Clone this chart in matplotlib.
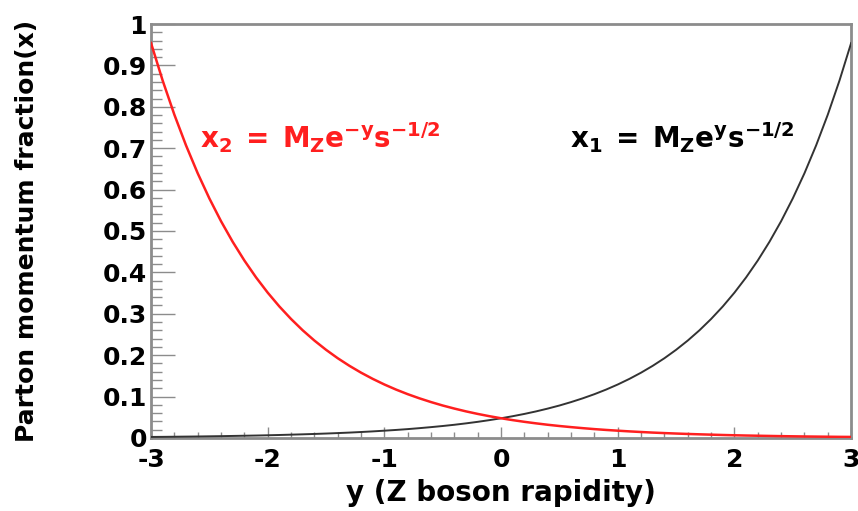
import numpy as np
import matplotlib.pyplot as plt
from matplotlib.ticker import MultipleLocator

plt.rcParams['font.family'] = ['DejaVu Sans']
plt.rcParams['font.weight'] = 'bold'
plt.rcParams['axes.unicode_minus'] = False
plt.rcParams['mathtext.fontset'] = 'custom'
plt.rcParams['mathtext.rm'] = 'Liberation Sans:bold'
plt.rcParams['mathtext.it'] = 'Liberation Sans:bold'
plt.rcParams['mathtext.bf'] = 'Liberation Sans:bold'

# ── data ──────────────────────────────────
rapidity = [-3.0, -2.9, -2.8, -2.7, -2.6, -2.5, -2.4, -2.3, -2.2, -2.1,
            -2.0, -1.9, -1.8, -1.7, -1.6, -1.5, -1.4, -1.3, -1.2, -1.1,
            -1.0, -0.9, -0.8, -0.7, -0.6, -0.5, -0.4, -0.3, -0.2, -0.1,
            0.0, 0.1, 0.2, 0.3, 0.4, 0.5, 0.6, 0.7, 0.8, 0.9,
            1.0, 1.1, 1.2, 1.3, 1.4, 1.5, 1.6, 1.7, 1.8, 1.9,
            2.0, 2.1, 2.2, 2.3, 2.4, 2.5, 2.6, 2.7, 2.8, 2.9, 3.0]
# x1 (black), left to right
x1_vals = [0.0024, 0.0026, 0.0029, 0.0032, 0.0035, 0.0039, 0.0043, 0.0048,
           0.0053, 0.0058, 0.0064, 0.0071, 0.0079, 0.0087, 0.0096, 0.0106,
           0.0117, 0.0129, 0.0143, 0.0158, 0.0175, 0.0193, 0.0213, 0.0236,
           0.0261, 0.0288, 0.0318, 0.0352, 0.0389, 0.0430, 0.0475, 0.0525,
           0.0580, 0.0641, 0.0709, 0.0783, 0.0866, 0.0957, 0.1057, 0.1168,
           0.1291, 0.1427, 0.1577, 0.1743, 0.1926, 0.2129, 0.2353, 0.2600,
           0.2874, 0.3176, 0.3510, 0.3879, 0.4287, 0.4738, 0.5236, 0.5787,
           0.6395, 0.7068, 0.7811, 0.8633, 0.9541]
# x2 (red), left to right
x2_vals = [0.9541, 0.8633, 0.7811, 0.7068, 0.6395, 0.5787, 0.5236, 0.4738,
           0.4287, 0.3879, 0.3510, 0.3176, 0.2874, 0.2600, 0.2353, 0.2129,
           0.1926, 0.1743, 0.1577, 0.1427, 0.1291, 0.1168, 0.1057, 0.0957,
           0.0866, 0.0783, 0.0709, 0.0641, 0.0580, 0.0525, 0.0475, 0.0430,
           0.0389, 0.0352, 0.0318, 0.0288, 0.0261, 0.0236, 0.0213, 0.0193,
           0.0175, 0.0158, 0.0143, 0.0129, 0.0117, 0.0106, 0.0096, 0.0087,
           0.0079, 0.0071, 0.0064, 0.0058, 0.0053, 0.0048, 0.0043, 0.0039,
           0.0035, 0.0032, 0.0029, 0.0026, 0.0024]
y_ticklabels = ['0', '0.1', '0.2', '0.3', '0.4', '0.5', '0.6', '0.7',
                '0.8', '0.9', '1']

# ── figure ────────────────────────────────
fig = plt.figure(figsize=(8.58, 5.11), dpi=100)
ax = fig.add_axes([0.176, 0.143, 0.816, 0.810])

ax.plot(rapidity, x1_vals, color='#333333', lw=1.4, zorder=3)
ax.plot(rapidity, x2_vals, color='#ff1f1f', lw=1.8, zorder=4)

ax.set_xlim(-3, 3)
ax.set_ylim(0, 1)

frame = '#8c8c8c'
for sp in ax.spines.values():
    sp.set_color(frame)
    sp.set_linewidth(2)

ax.xaxis.set_major_locator(MultipleLocator(1))
ax.xaxis.set_minor_locator(MultipleLocator(0.2))
ax.yaxis.set_minor_locator(MultipleLocator(0.02))
ax.set_yticks(np.arange(0, 1.01, 0.1))
ax.set_yticklabels(y_ticklabels)

ax.tick_params(axis='both', which='both', direction='in', color=frame,
               labelsize=18)
ax.tick_params(axis='y', which='major', length=17, width=1, pad=3)
ax.tick_params(axis='y', which='minor', length=8, width=1)
ax.tick_params(axis='x', which='major', length=8, width=1, pad=7)
ax.tick_params(axis='x', which='minor', length=4, width=1)
for lab in ax.get_xticklabels() + ax.get_yticklabels():
    lab.set_fontweight('bold')

ax.set_xlabel('y (Z boson rapidity)', fontsize=20, fontweight='bold')
ax.set_ylabel('Parton momentum fraction(x)', fontsize=18, fontweight='bold')
ax.xaxis.set_label_coords(0.5, -0.10)
ax.yaxis.set_label_coords(-0.16, 0.5)

ax.text(-2.58, 0.70, r'$\mathregular{x_2\ =\ M_Ze^{-y}s^{-1/2}}$',
        color='#ff1f1f', fontsize=20, va='baseline')
ax.text(0.59, 0.70, r'$\mathregular{x_1\ =\ M_Ze^{y}s^{-1/2}}$',
        color='black', fontsize=20, va='baseline')

fig.savefig('out.png', dpi=100)
